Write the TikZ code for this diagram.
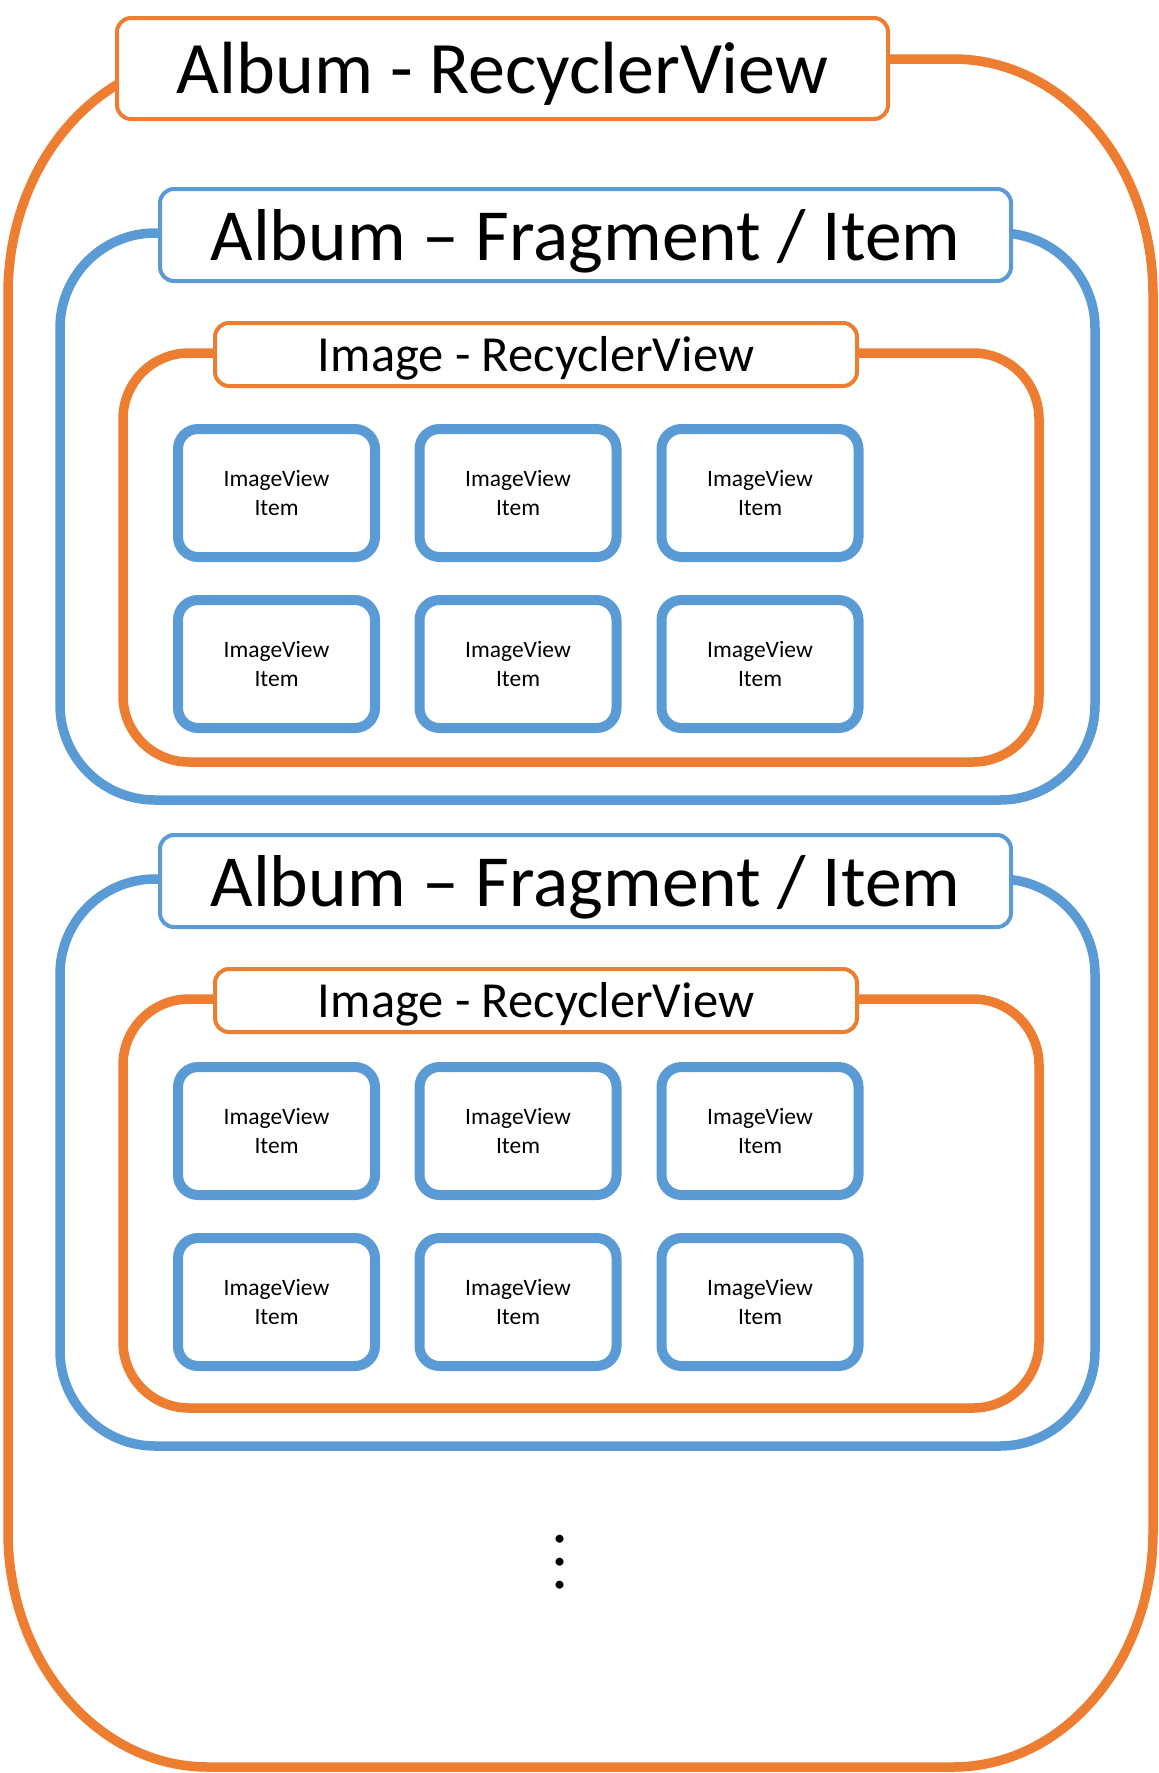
\documentclass[tikz,border=0pt]{standalone}
\usepackage{fontspec}
\setmainfont{Carlito}
\definecolor{ofc}{HTML}{ED7D31}
\definecolor{bfc}{HTML}{5B9BD5}
\tikzset{
  frameline/.style={line width=9.5pt},
  ttl/.style={draw, fill=white, line width=4pt, rounded corners=14pt, inner sep=0pt, text depth=0pt},
  itembox/.style={draw=bfc, line width=10pt, rounded corners=20pt, minimum width=197pt, minimum height=128pt,
    align=center, font=\fontsize{23.5}{28.2}\selectfont, inner sep=0pt},
}
% color/style, left, top, right, bottom, rx, ry
\newcommand\ovalframe[7]{%
  \draw[#1] ({#2},{#3+#7}) -- ({#2},{#5-#7})
    arc[start angle=180,end angle=90,x radius=#6,y radius=#7] -- ({#4-#6},{#5})
    arc[start angle=90,end angle=0,x radius=#6,y radius=#7] -- ({#4},{#3+#7})
    arc[start angle=0,end angle=-90,x radius=#6,y radius=#7] -- ({#2+#6},{#3})
    arc[start angle=270,end angle=180,x radius=#6,y radius=#7] -- cycle;}
% offset for frames/titles, offset for items, block number
\newcommand\albumblock[3]{%
  \ovalframe{frameline,draw=bfc}{60}{233+#1}{1095}{800+#1}{95}{95}
  \node[ttl, draw=bfc, minimum width=851pt, minimum height=92pt, text height=50pt,
        font=\fontsize{73.5}{84}\selectfont] (frag#3) at (585.5,{235+#1}) {Album – Fragment / Item};
  \ovalframe{frameline,draw=ofc}{123}{353+#1}{1039}{762+#1}{66}{66}
  \node[ttl, draw=ofc, minimum width=642pt, minimum height=63pt, text height=33pt,
        font=\fontsize{50.5}{60}\selectfont] (irv#3) at (536,{354.5+#1}) {Image - RecyclerView};
  \foreach \cx [count=\c] in {276.5,518,760}{
    \foreach \ry [count=\r] in {493,664}{
      \node[itembox] (item#3-\r-\c) at (\cx,{\ry+#2}) {ImageView\\Item};
    }
  }
}
\begin{document}
\begin{tikzpicture}[x=1pt,y=-1pt]
\useasboundingbox (0,0) rectangle (1159,1773);
\ovalframe{frameline,draw=ofc}{8}{59}{1153}{1767}{200}{235}
\node[ttl, draw=ofc, minimum width=771pt, minimum height=101pt, text height=49pt,
      font=\fontsize{74}{84}\selectfont] (rv) at (502.5,68.5) {Album - RecyclerView};
\albumblock{0}{0}{1}
\albumblock{646}{638}{2}
\node[rotate=90, font=\fontsize{66}{70}\selectfont, inner sep=0pt, text height=8.5pt, text depth=0pt]
  (dots) at (559,1562) {.\hspace{6.5pt}.\hspace{6.5pt}.};
\end{tikzpicture}
\end{document}
